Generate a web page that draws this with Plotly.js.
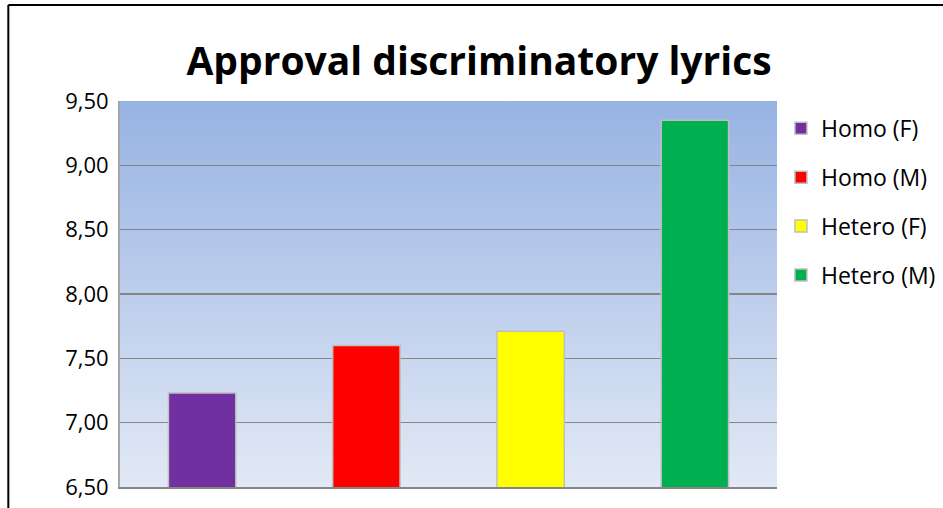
<!DOCTYPE html>
<html>
<head>
<meta charset="utf-8">
<script src="https://cdn.plot.ly/plotly-3.0.1.min.js"></script>
<style>
  html, body { margin: 0; padding: 0; background: #ffffff; }
  #chart { width: 943px; height: 508px; }
</style>
</head>
<body>
<div id="chart"></div>
<script>
// Approval scores per group
const categories = ['Homo (F)', 'Homo (M)', 'Hetero (F)', 'Hetero (M)'];
const approval = [7.23, 7.60, 7.71, 9.35];
const barColors = ['#7030a0', '#ff0000', '#ffff00', '#00b050'];
const yTicks = [6.5, 7.0, 7.5, 8.0, 8.5, 9.0, 9.5];

const FONT = 'Open Sans, DejaVu Sans, sans-serif';

// one trace per group so each gets its own legend entry
const traces = categories.map((name, i) => ({
  type: 'bar',
  name: name,
  x: [name],
  y: [approval[i]],
  base: 0,
  width: 0.41,
  legendgroup: 'g' + i,
  marker: { color: barColors[i], line: { color: '#bfbfbf', width: 1.5 } },
  hoverinfo: 'x+y'
}));

// vertical blue gradient for the plotting area
const gradSvg =
  '<svg xmlns="http://www.w3.org/2000/svg" width="10" height="100" preserveAspectRatio="none">' +
  '<defs><linearGradient id="g" x1="0" y1="0" x2="0" y2="1">' +
  '<stop offset="0" stop-color="#97b3e3"/>' +
  '<stop offset="1" stop-color="#e2e9f5"/>' +
  '</linearGradient></defs>' +
  '<rect width="10" height="100" fill="url(#g)"/></svg>';

const layout = {
  width: 943,
  height: 508,
  margin: { l: 120, r: 166, t: 101, b: 21, autoexpand: false },
  paper_bgcolor: '#ffffff',
  plot_bgcolor: 'rgba(0,0,0,0)',
  separators: ',.',
  barmode: 'overlay',
  showlegend: true,
  title: {
    text: '<b>Approval discriminatory lyrics</b>',
    font: { family: FONT, size: 39, color: '#000000' },
    x: 0.508, xanchor: 'center',
    y: 0.88, yanchor: 'middle'
  },
  xaxis: {
    type: 'category',
    categoryorder: 'array',
    categoryarray: categories,
    showticklabels: false,
    ticks: '',
    showgrid: false,
    zeroline: false,
    showline: true,
    linecolor: '#868686',
    linewidth: 2,
    fixedrange: true
  },
  yaxis: {
    range: [6.5, 9.5],
    tickvals: yTicks,
    tickformat: '.2f',
    ticks: '',
    ticklabelstandoff: 5,
    tickfont: { family: FONT, size: 22, color: '#000000' },
    showgrid: true,
    gridcolor: '#868686',
    gridwidth: 1.5,
    zeroline: false,
    showline: true,
    linecolor: '#a6a6a6',
    linewidth: 2,
    fixedrange: true
  },
  legend: {
    x: 1.006, xanchor: 'left',
    y: 0.985, yanchor: 'top',
    traceorder: 'grouped',
    tracegroupgap: 16,
    font: { family: FONT, size: 23, color: '#000000' },
    bgcolor: 'rgba(0,0,0,0)',
    itemwidth: 30
  },
  images: [{
    source: 'data:image/svg+xml;charset=utf-8,' + encodeURIComponent(gradSvg),
    xref: 'paper', yref: 'paper',
    x: 0, y: 1, sizex: 1, sizey: 1,
    xanchor: 'left', yanchor: 'top',
    sizing: 'stretch',
    layer: 'below'
  }],
  shapes: [
    // outer frame (left and top edges)
    { type: 'line', xref: 'paper', yref: 'paper', x0: -0.17, x1: -0.17, y0: -0.2, y1: 1.2487,
      line: { color: '#000000', width: 2 } },
    { type: 'line', xref: 'paper', yref: 'paper', x0: -0.17, x1: 1.5, y0: 1.2487, y1: 1.2487,
      line: { color: '#000000', width: 2 } }
  ]
};

Plotly.newPlot('chart', traces, layout, { displayModeBar: false, staticPlot: true });
</script>
</body>
</html>
